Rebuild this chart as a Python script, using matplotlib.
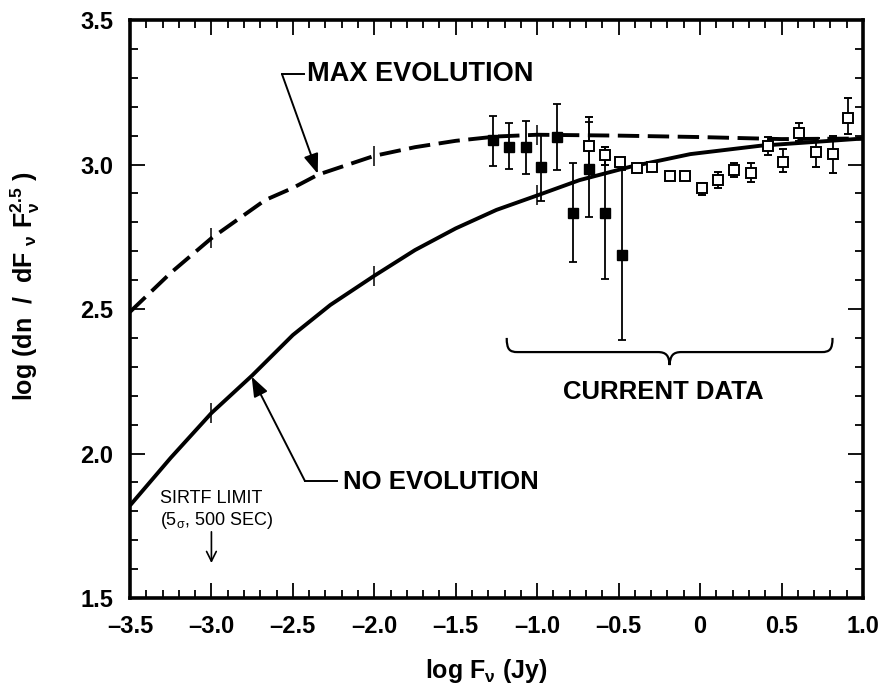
import numpy as np
import matplotlib.pyplot as plt
from matplotlib.path import Path
from matplotlib.patches import PathPatch
from matplotlib.ticker import MultipleLocator

plt.rcParams['font.family'] = ['Liberation Sans', 'DejaVu Sans']
plt.rcParams['mathtext.default'] = 'regular'

# model curves
no_evo_x = [-3.5, -3.25, -3.0, -2.75, -2.5, -2.27, -2.0, -1.75, -1.5, -1.25, -1.0,
            -0.74, -0.43, -0.06, 0.37, 1.0]
no_evo_y = [1.82, 1.985, 2.14, 2.27, 2.41, 2.514, 2.615, 2.704, 2.779, 2.843, 2.893,
            2.946, 2.992, 3.036, 3.065, 3.09]
max_evo_x = [-3.5, -3.25, -3.0, -2.67, -2.5, -2.345, -2.0, -1.75, -1.5, -1.25, -1.0,
             -0.5, 0.0, 0.5, 1.0]
max_evo_y = [2.49, 2.625, 2.745, 2.877, 2.919, 2.965, 3.03, 3.06, 3.082, 3.097, 3.103,
             3.10, 3.095, 3.088, 3.09]
curve_marks = [-3.0, -2.0, -1.0]

# filled squares with error bar ends
fill_x = [-1.27, -1.17, -1.07, -0.975, -0.88, -0.78, -0.684, -0.586, -0.48]
fill_y = [3.085, 3.06, 3.06, 2.99, 3.094, 2.833, 2.983, 2.833, 2.687]
fill_lo = [2.995, 2.985, 2.966, 2.875, 2.98, 2.664, 2.82, 2.604, 2.393]
fill_hi = [3.169, 3.142, 3.15, 3.105, 3.21, 3.006, 3.146, 3.062, 2.98]

# open squares with error bar ends
open_x = [-0.684, -0.586, -0.49, -0.39, -0.296, -0.187, -0.095, 0.011, 0.109,
          0.207, 0.31, 0.416, 0.512, 0.61, 0.71, 0.815, 0.91]
open_y = [3.065, 3.033, 3.01, 2.987, 2.99, 2.96, 2.96, 2.92, 2.946,
          2.98, 2.97, 3.065, 3.01, 3.11, 3.044, 3.036, 3.162]
open_lo = [3.0, 3.0, 3.01, 2.987, 2.99, 2.96, 2.96, 2.894, 2.92,
           2.956, 2.94, 3.033, 2.974, 3.08, 2.99, 2.97, 3.104]
open_hi = [3.165, 3.06, 3.01, 2.987, 2.99, 2.96, 2.96, 2.935, 2.975,
           3.004, 3.004, 3.095, 3.055, 3.142, 3.093, 3.10, 3.23]

xtick_vals = [-3.5, -3.0, -2.5, -2.0, -1.5, -1.0, -0.5, 0.0, 0.5, 1.0]
xtick_labels = ['\u20133.5', '\u20133.0', '\u20132.5', '\u20132.0', '\u20131.5',
                '\u20131.0', '\u20130.5', '0', '0.5', '1.0']
ytick_vals = [1.5, 2.0, 2.5, 3.0, 3.5]
ytick_labels = ['1.5', '2.0', '2.5', '3.0', '3.5']

fig = plt.figure(figsize=(8.83, 6.88), dpi=100)
ax = fig.add_axes([0.1472, 0.1308, 0.8301, 0.8401])

ax.plot(no_evo_x, no_evo_y, color='black', lw=2.8, solid_capstyle='butt',
        solid_joinstyle='round', zorder=2)
ax.plot(max_evo_x, max_evo_y, color='black', lw=2.8, dashes=(5.5, 2.2), zorder=2)

# short vertical marks on the curves
for cx, cy in [(no_evo_x, no_evo_y), (max_evo_x, max_evo_y)]:
    cx = np.array(cx)
    cy = np.array(cy)
    sel = np.isin(cx, curve_marks)
    ax.plot(cx[sel], cy[sel], ls='none', marker='|', ms=15, mew=1.1, color='black', zorder=2)

fx = np.array(fill_x)
fy = np.array(fill_y)
ax.errorbar(fx, fy, yerr=[fy - np.array(fill_lo), np.array(fill_hi) - fy],
            fmt='s', ms=7, color='black', mfc='black', mec='black',
            elinewidth=1.3, capsize=3, capthick=1.3, zorder=4)

ox = np.array(open_x)
oy = np.array(open_y)
ax.errorbar(ox, oy, yerr=[oy - np.array(open_lo), np.array(open_hi) - oy],
            fmt='s', ms=6.5, color='black', mfc='white', mec='black', mew=1.4,
            elinewidth=1.3, capsize=3, capthick=1.3, zorder=5)

ax.set_xlim(-3.5, 1.0)
ax.set_ylim(1.5, 3.5)
ax.set_xticks(xtick_vals)
ax.set_xticklabels(xtick_labels)
ax.set_yticks(ytick_vals)
ax.set_yticklabels(ytick_labels)
ax.xaxis.set_minor_locator(MultipleLocator(0.1))
ax.yaxis.set_minor_locator(MultipleLocator(0.1))
ax.tick_params(which='both', direction='in', top=True, right=True, width=1.3)
ax.tick_params(which='major', length=11, labelsize=17, pad=12)
ax.tick_params(which='minor', length=6)
for lab in ax.get_xticklabels() + ax.get_yticklabels():
    lab.set_fontweight('bold')
for sp in ax.spines.values():
    sp.set_linewidth(2.6)

ax.set_xlabel(r'log F$_{\nu}$ (Jy)', fontsize=18, fontweight='bold')
ax.xaxis.set_label_coords(0.486, -0.102)
ax.set_ylabel(r'log (dn  /  dF $_{\nu}$ F$_{\nu}^{2.5}$ )', fontsize=18, fontweight='bold')
ax.yaxis.set_label_coords(-0.12, 0.54)

# labels with leader arrows
arrow_kw = dict(arrowstyle='-|>,head_length=1.2,head_width=0.45', color='black', lw=1.4,
                shrinkA=0, shrinkB=0)
ax.plot([-2.567, -2.43], [3.313, 3.313], color='black', lw=1.4)
ax.annotate('', xy=(-2.347, 2.968), xytext=(-2.567, 3.313), arrowprops=arrow_kw)
ax.text(-2.414, 3.313, 'MAX EVOLUTION', fontsize=19.5, fontweight='bold', va='center')

ax.plot([-2.426, -2.23], [1.905, 1.905], color='black', lw=1.4)
ax.annotate('', xy=(-2.753, 2.266), xytext=(-2.426, 1.905), arrowprops=arrow_kw)
ax.text(-2.193, 1.903, 'NO EVOLUTION', fontsize=18.5, fontweight='bold', va='center')

ax.text(-0.227, 2.214, 'CURRENT DATA', fontsize=18.5, fontweight='bold', ha='center', va='center')

# brace over the current data
brace_verts = [(-1.187, 2.40), (-1.187, 2.36), (-1.17, 2.351), (-1.12, 2.351),
               (-0.26, 2.351),
               (-0.21, 2.351), (-0.19, 2.34), (-0.187, 2.306),
               (-0.184, 2.34), (-0.164, 2.351), (-0.114, 2.351),
               (0.746, 2.351),
               (0.796, 2.351), (0.813, 2.36), (0.813, 2.40)]
brace_codes = [Path.MOVETO, Path.CURVE4, Path.CURVE4, Path.CURVE4,
               Path.LINETO,
               Path.CURVE4, Path.CURVE4, Path.CURVE4,
               Path.CURVE4, Path.CURVE4, Path.CURVE4,
               Path.LINETO,
               Path.CURVE4, Path.CURVE4, Path.CURVE4]
ax.add_patch(PathPatch(Path(brace_verts, brace_codes), fill=False, lw=1.6, color='black'))

# SIRTF limit
ax.text(-3.316, 1.829, 'SIRTF LIMIT', fontsize=13)
ax.text(-3.316, 1.753, r'(5$_{\sigma}$, 500 SEC)', fontsize=13)
ax.annotate('', xy=(-3.0, 1.621), xytext=(-3.0, 1.729),
            arrowprops=dict(arrowstyle='->,head_length=0.7,head_width=0.35', color='black',
                            lw=1.2, shrinkA=0, shrinkB=0))

fig.savefig('out.png', dpi=100)
